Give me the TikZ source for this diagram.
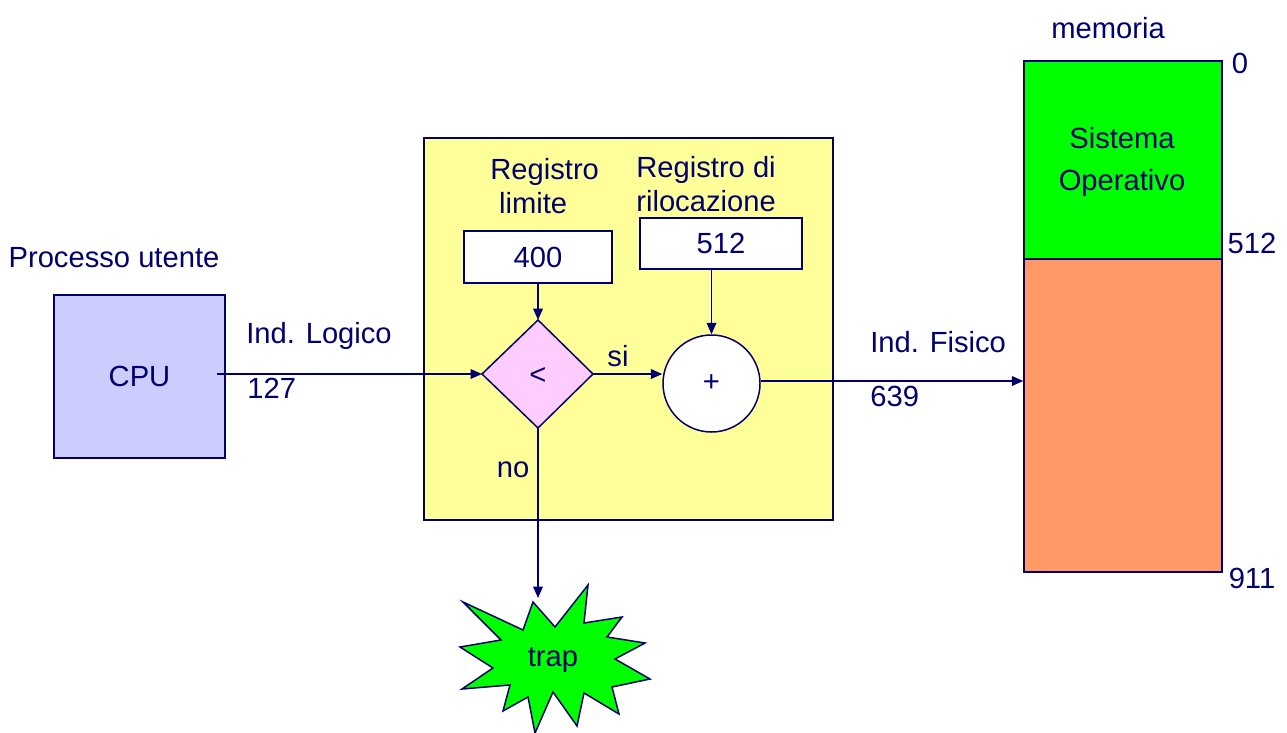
\documentclass[tikz,border=0pt]{standalone}
\usepackage{fontspec}
\setmainfont{Liberation Sans}
\usetikzlibrary{arrows.meta}
\definecolor{navy}{RGB}{0,0,110}
\definecolor{cpufill}{RGB}{204,204,255}
\definecolor{yfill}{RGB}{255,255,153}
\definecolor{pfill}{RGB}{255,204,255}
\definecolor{gfill}{RGB}{0,255,0}
\definecolor{ofill}{RGB}{255,153,102}
\begin{document}
\begin{tikzpicture}[x=0.02cm,y=-0.02cm,
  every node/.style={font=\fontsize{16.6}{20}\selectfont, text=navy},
  box/.style={draw=navy, line width=0.85pt, inner sep=0pt},
  lbl/.style={inner sep=0pt, align=center},
  conn/.style={draw=navy, line width=0.85pt, -{Triangle[length=6.5pt,width=5.5pt]}},
]
\useasboundingbox (0,0) rectangle (1287,733);
% yellow box
\node[box, fill=yfill, minimum width=409*0.02cm, minimum height=382*0.02cm] (mmu) at (628.5,329) {};
% CPU
\node[box, fill=cpufill, minimum width=171*0.02cm, minimum height=163*0.02cm] (cpu) at (139.5,376.5) {CPU};
\node[lbl] (proc) at (114,258) {Processo utente};
% registers
\node[lbl, align=left, anchor=west, font=\fontsize{16.6}{19.8}\selectfont] (rl) at (490,186) {Registro\\\hspace*{0.3em}limite};
\node[lbl, align=left, anchor=west, font=\fontsize{16.6}{19.3}\selectfont] (rr) at (636,184) {Registro di\\rilocazione};
\node[box, fill=white, minimum width=148*0.02cm, minimum height=52*0.02cm] (r400) at (538,257) {400};
\node[box, fill=white, minimum width=162*0.02cm, minimum height=51*0.02cm] (r512) at (721,243.5) {512};
% diamond
\path[draw=navy, line width=0.85pt, fill=pfill] (538,320) -- (593,374) -- (538,428) -- (482,374) -- cycle;
\coordinate (dT) at (538,320);
\coordinate (dR) at (593,374);
\coordinate (dB) at (538,428);
\coordinate (dL) at (482,374);
\node[lbl] (lt) at (538,376) {<};
% circle
\node[box, fill=white, circle, minimum size=97*0.02cm] (plus) at (711.5,383.5) {+};
% memory
\node[box, fill=gfill, minimum width=198*0.02cm, minimum height=198*0.02cm] (os) at (1123,160) {};
\node[box, fill=ofill, minimum width=198*0.02cm, minimum height=313*0.02cm] (user) at (1123,415.5) {};
\node[lbl, font=\fontsize{16.6}{24.4}\selectfont] (ostext) at (1122,162) {Sistema\\Operativo};
\node[lbl] (mem) at (1108,28) {memoria};
\node[lbl] (m0) at (1240,63) {0};
\node[lbl] (m512) at (1252,243) {512};
\node[lbl] (m911) at (1252,578) {911};
% trap
\path[draw=navy, line width=0.85pt, fill=gfill]
 (533,602) -- (555,627) -- (588,585) -- (584,623) -- (622,617) -- (607,637)
 -- (645,643) -- (615,659) -- (650,679) -- (612,687) -- (619,714) -- (584,693)
 -- (577,726) -- (553,692) -- (535,733) -- (528,697) -- (503,711) -- (510,685)
 -- (462,689) -- (493,668) -- (460,647) -- (501,640) -- (463,602) -- (523,630) -- cycle;
\node[lbl] (trap) at (553,660) {trap};
\coordinate (trapTop) at (538,598);
% connectors
\coordinate (cpuOut) at (217,374);
\draw[conn] (cpuOut) -- (dL);
\draw[conn] (r400.south) -- (dT);
\draw[conn] (r512.south -| plus.north) -- (plus.north);
\draw[conn] (dR) -- (dR -| plus.west);
\draw[conn] (plus.east |- 0,381) -- (user.west |- 0,381);
\draw[conn] (dB) -- (trapTop);
% labels on connectors
\node[lbl, anchor=west] (il) at (246,336) {Ind. Logico};
\node[lbl, anchor=west] (i127) at (247,388) {127};
\node[lbl] (si) at (618,356) {si};
\node[lbl] (no) at (513,470) {no};
\node[lbl, anchor=west] (ifi) at (870,342) {Ind. Fisico};
\node[lbl, anchor=west] (i639) at (870,396) {639};
\end{tikzpicture}
\end{document}
